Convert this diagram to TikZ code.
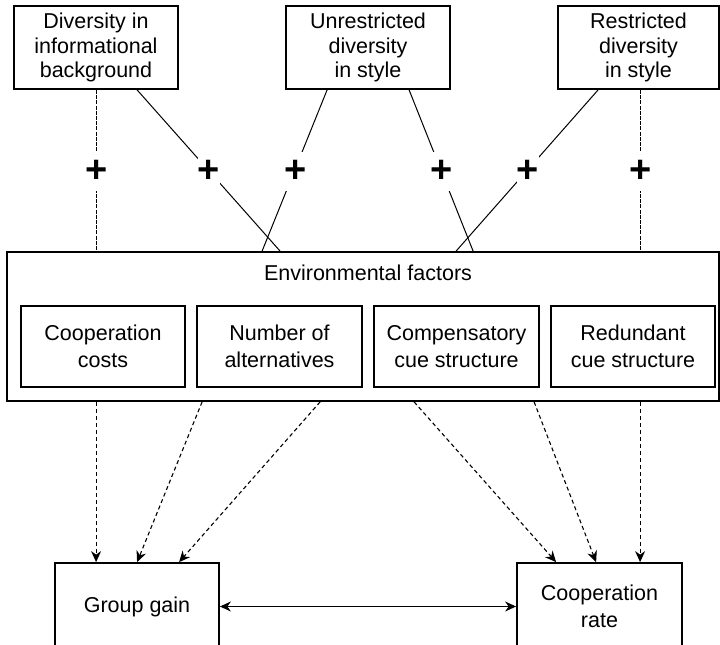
\documentclass[tikz,border=0pt]{standalone}
\usepackage{fontspec}
\setmainfont{Liberation Sans}
\usetikzlibrary{arrows.meta}
\begin{document}
\begin{tikzpicture}[x=1pt,y=-1pt,
  box/.style={draw=black, line width=1.8pt, inner sep=0pt, align=center, font=\fontsize{21.5}{24.5}\selectfont},
  ibox/.style={box, minimum width=164pt, minimum height=81pt, font=\fontsize{21.5}{27}\selectfont},
  link/.style={line width=1pt},
  finedash/.style={line width=1pt, dash pattern=on 4pt off 1.2pt},
  effect/.style={line width=1.1pt, dash pattern=on 4pt off 3pt, -{Stealth[length=11pt,width=10pt]}},
  both/.style={line width=1.1pt, {Stealth[length=11pt,width=10pt]}-{Stealth[length=11pt,width=10pt]}},
  plus/.style={fill=white, inner sep=0pt, minimum width=22pt, minimum height=39pt, font=\fontsize{38}{38}\bfseries\selectfont},
]
\useasboundingbox (0,0) rectangle (720,645);
\clip (0,0) rectangle (720,645);

% top boxes
\node[box, minimum width=164pt, minimum height=83pt] (top1) at (96,47.5) {Diversity in\\informational\\background};
\node[box, minimum width=164pt, minimum height=83pt] (top2) at (368,47.5) {Unrestricted\\diversity\\in style};
\node[box, minimum width=161pt, minimum height=83pt] (top3) at (638.5,47.5) {Restricted\\diversity\\in style};

% environmental factors
\node[box, minimum width=712pt, minimum height=149pt] (outer) at (363,326.5) {};
\node[font=\fontsize{21.5}{24.5}\selectfont, inner sep=0pt] (envt) at (368,273) {Environmental factors};
\node[ibox] (f1) at (103,346.5) {Cooperation\\costs};
\node[ibox, minimum width=165pt] (f2) at (279.5,346.5) {Number of\\alternatives};
\node[ibox, minimum width=165pt] (f3) at (456.5,346.5) {Compensatory\\cue structure};
\node[ibox] (f4) at (633,346.5) {Redundant\\cue structure};

% outcomes
\node[box, minimum width=164pt, minimum height=87pt] (gg) at (137,606.5) {Group gain};
\node[box, minimum width=165pt, minimum height=87pt, font=\fontsize{21.5}{27}\selectfont] (cr) at (599.5,606.5) {Cooperation\\rate};

% top connectors
\draw[finedash] ([xshift=83pt]top1.south west) -- ([xshift=90pt]outer.north west);
\draw[link] ([xshift=124pt]top1.south west) -- ([xshift=274pt]outer.north west);
\draw[link] ([xshift=42pt]top2.south west) -- ([xshift=256pt]outer.north west);
\draw[link] ([xshift=124pt]top2.south west) -- ([xshift=467pt]outer.north west);
\draw[link] ([xshift=41pt]top3.south west) -- ([xshift=450pt]outer.north west);
\draw[finedash] ([xshift=83pt]top3.south west) -- ([xshift=634pt]outer.north west);

% plus signs
\node[plus] (p1) at (97,171) {+};
\node[plus] (p2) at (209,171) {+};
\node[plus] (p3) at (296,171) {+};
\node[plus] (p4) at (442,171) {+};
\node[plus] (p5) at (528,171) {+};
\node[plus] (p6) at (641,171) {+};

% bottom connectors
\draw[effect] ([xshift=90pt]outer.south west) -- ([xshift=42pt]gg.north west);
\draw[effect] ([xshift=196pt]outer.south west) -- ([xshift=83pt]gg.north west);
\draw[effect] ([xshift=314pt]outer.south west) -- ([xshift=125pt]gg.north west);
\draw[effect] ([xshift=408pt]outer.south west) -- ([xshift=40pt]cr.north west);
\draw[effect] ([xshift=528pt]outer.south west) -- ([xshift=80pt]cr.north west);
\draw[effect] ([xshift=634pt]outer.south west) -- ([xshift=124pt]cr.north west);

\draw[both] (gg.east) -- (cr.west);
\end{tikzpicture}
\end{document}
